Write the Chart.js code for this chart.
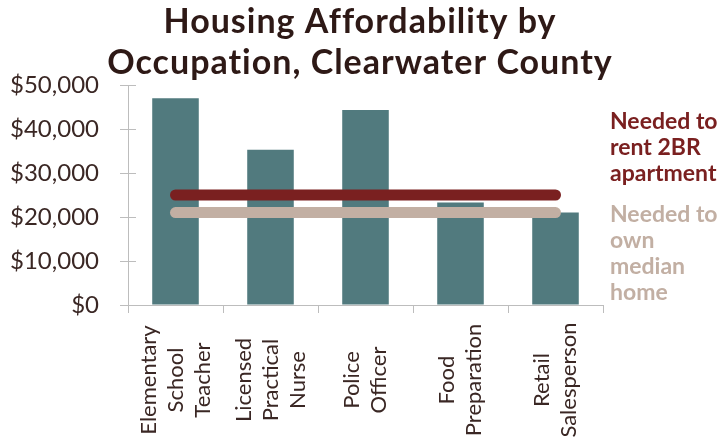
<!DOCTYPE html>
<html>
<head>
<meta charset="utf-8">
<script src="https://cdn.jsdelivr.net/npm/chart.js@4.4.1/dist/chart.umd.min.js"></script>
<style>
  html,body{margin:0;padding:0;background:#fff;}
  #wrap{width:726px;height:446px;position:relative;}
</style>
</head>
<body>
<div id="wrap"><canvas id="c"></canvas></div>
<script>
const titleLines = ['Housing Affordability by', 'Occupation, Clearwater County'];
const occupations = [
  ['Elementary', 'School', 'Teacher'],
  ['Licensed', 'Practical', 'Nurse'],
  ['Police', 'Officer'],
  ['Food', 'Preparation'],
  ['Retail', 'Salesperson']
];
const salaries = [47000, 35300, 44300, 23300, 21000];
const rentNeeded = [25000, 25000, 25000, 25000, 25000];
const ownNeeded = [21000, 21000, 21000, 21000, 21000];
const rentLabel = ['Needed to', 'rent 2BR', 'apartment'];
const ownLabel = ['Needed to', 'own', 'median', 'home'];
const yTicks = [0, 10000, 20000, 30000, 40000, 50000];

const FONT = 'Lato, "Open Sans", sans-serif';
const textColor = '#3a2724';
const axisColor = '#bdbdbd';
const barColor = '#517a7e';
const rentColor = '#7a2020';
const ownColor = '#c2afa3';

const extras = {
  id: 'extras',
  afterDraw(chart){
    const ctx = chart.ctx, xs = chart.scales.x, ys = chart.scales.y;
    ctx.save();
    // title (letter spacing also keeps "ti" from joining)
    ctx.fillStyle = '#2e1916';
    ctx.font = 'bold 34px ' + FONT;
    ctx.letterSpacing = '1px';
    ctx.textAlign = 'center'; ctx.textBaseline = 'alphabetic';
    titleLines.forEach((t,i)=> ctx.fillText(t, 360, 33 + i*41));
    ctx.letterSpacing = '0px';

    // inner half of y tick marks
    ctx.strokeStyle = axisColor; ctx.lineWidth = 1;
    yTicks.forEach(v => {
      const y = Math.round(ys.getPixelForValue(v)) + 0.5;
      ctx.beginPath(); ctx.moveTo(xs.left, y); ctx.lineTo(xs.left + 8, y); ctx.stroke();
    });

    // category labels, rotated and centered
    ctx.fillStyle = textColor;
    ctx.font = '22px ' + FONT;
    ctx.textAlign = 'center'; ctx.textBaseline = 'middle';
    occupations.forEach((lines,i)=>{
      const x = xs.getPixelForValue(i);
      ctx.save();
      ctx.translate(x, 380);
      ctx.rotate(-Math.PI/2);
      const n = lines.length;
      lines.forEach((t,k)=> ctx.fillText(t, 0, (k - (n-1)/2) * 27));
      ctx.restore();
    });

    // right-hand series labels
    ctx.font = 'bold 23px ' + FONT;
    ctx.textAlign = 'left'; ctx.textBaseline = 'alphabetic';
    ctx.fillStyle = rentColor;
    rentLabel.forEach((t,i)=> ctx.fillText(t, 610, 129 + i*26));
    ctx.fillStyle = ownColor;
    ownLabel.forEach((t,i)=> ctx.fillText(t, 610, 222 + i*26));
    ctx.restore();
  }
};

new Chart(document.getElementById('c'), {
  type: 'bar',
  data: {
    labels: occupations.map(l => l.join(' ')),
    datasets: [
      { type:'line', label:'Needed to rent 2BR apartment', data: rentNeeded, borderColor: rentColor,
        borderWidth: 11, borderCapStyle:'round', pointRadius: 0, fill:false, order: 0 },
      { type:'line', label:'Needed to own median home', data: ownNeeded, borderColor: ownColor,
        borderWidth: 11, borderCapStyle:'round', pointRadius: 0, fill:false, order: 1 },
      { label:'Salary', data: salaries, backgroundColor: barColor,
        barPercentage: 0.49, categoryPercentage: 1.0, order: 2 }
    ]
  },
  options: {
    responsive: true,
    maintainAspectRatio: false,
    animation: false,
    layout: { padding: { top: 85, right: 123, bottom: 133, left: 10 } },
    plugins: { legend: { display:false }, tooltip: { enabled:false }, title: { display:false } },
    scales: {
      x: {
        offset: true,
        grid: { drawOnChartArea:false, offset:true, color: axisColor, tickLength: 8 },
        border: { color: axisColor },
        ticks: { display:false }
      },
      y: {
        min: 0, max: 50000,
        afterFit(s){ s.width = 118; },
        afterBuildTicks(s){ s.ticks = yTicks.map(v => ({ value: v })); },
        grid: { drawOnChartArea:false, color: axisColor, tickLength: 8 },
        border: { color: axisColor },
        ticks: {
          color: textColor, padding: 21,
          font: { family: FONT, size: 24 },
          callback: v => '$' + v.toLocaleString('en-US')
        }
      }
    }
  },
  plugins: [extras]
});
</script>
</body>
</html>
